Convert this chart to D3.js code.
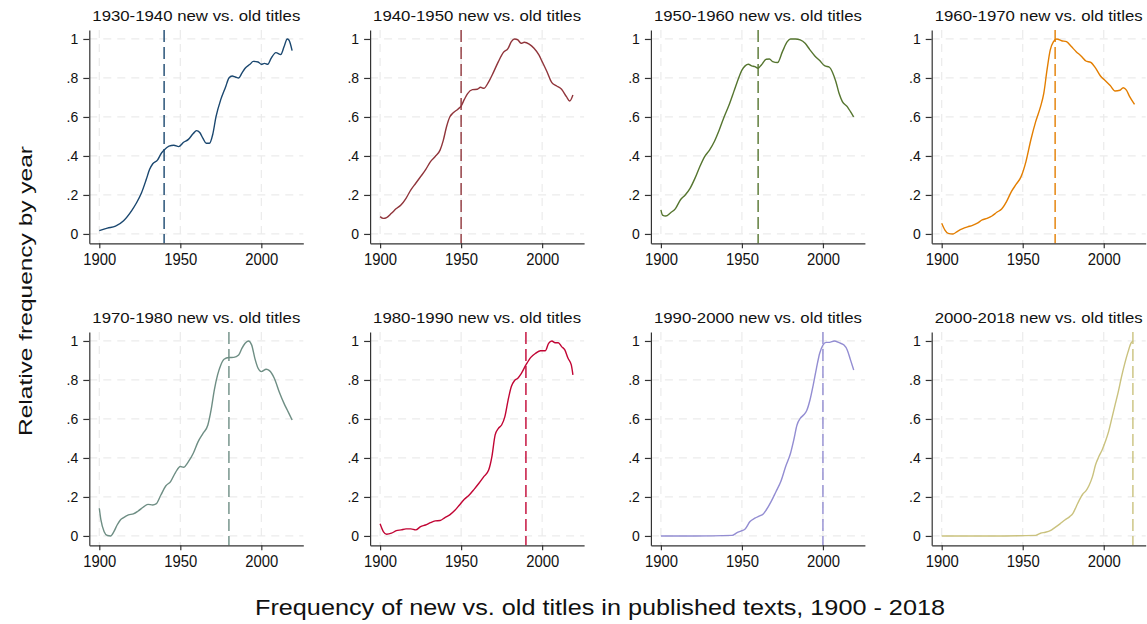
<!DOCTYPE html>
<html>
<head>
<meta charset="utf-8">
<script src="https://cdn.jsdelivr.net/npm/d3@7"></script>
<style>
  body { margin: 0; background: #fff; }
  svg { display: block; font-family: "Liberation Sans", Arial, sans-serif; }
</style>
</head>
<body>
<svg id="chart" width="1147" height="624"></svg>
<script>
const W = 1147, H = 624;

// one entry per small panel, left to right, top row first
const panelTitles = [
    "1930-1940 new vs. old titles", "1940-1950 new vs. old titles",
    "1950-1960 new vs. old titles", "1960-1970 new vs. old titles",
    "1970-1980 new vs. old titles", "1980-1990 new vs. old titles",
    "1990-2000 new vs. old titles", "2000-2018 new vs. old titles"
];
const refYears = [1940, 1950, 1960, 1970, 1980, 1990, 2000, 2018];
const lineColors = ["#1a476f", "#90353b", "#55752f", "#e37e00",
                    "#6e8e84", "#c10534", "#938dd2", "#cac27e"];

const xTicks = [1900, 1950, 2000];
const yTicks = [0, 0.2, 0.4, 0.6, 0.8, 1];
const yTickLabels = ["0", ".2", ".4", ".6", ".8", "1"];
const xTitle = "Frequency of new vs. old titles in published texts, 1900 - 2018";
const yTitle = "Relative frequency by year";

// [year, relative frequency]
const s1930 = [[1900,.017],[1905,.03],[1910,.04],[1915,.068],[1920,.12],[1923,.16],[1926,.21],
    [1929,.28],[1931,.33],[1933,.36],[1936,.38],[1938,.41],[1940,.43],[1943,.45],[1946,.455],
    [1949,.448],[1952,.47],[1955,.485],[1958,.515],[1960,.53],[1962,.52],[1964,.49],[1966,.465],
    [1968,.465],[1970,.51],[1972,.6],[1975,.69],[1978,.755],[1980,.8],[1982,.81],[1984,.805],
    [1986,.8],[1988,.825],[1990,.85],[1993,.87],[1995,.885],[1998,.882],[2000,.87],[2002,.875],
    [2004,.87],[2006,.9],[2009,.93],[2012,.92],[2014,.96],[2016,1],[2017,.995],[2019,.94]];
const s1940 = [[1900,.089],[1902,.08],[1904,.084],[1907,.106],[1910,.13],[1913,.15],[1916,.183],
    [1919,.226],[1922,.26],[1925,.294],[1928,.328],[1931,.37],[1934,.397],[1937,.43],[1939,.48],
    [1941,.55],[1943,.6],[1945,.62],[1948,.64],[1950,.656],[1952,.69],[1954,.72],[1957,.74],
    [1960,.742],[1962,.752],[1964,.747],[1967,.78],[1970,.83],[1973,.884],[1976,.93],[1979,.952],
    [1981,.986],[1983,1],[1985,.995],[1987,.978],[1989,.983],[1992,.974],[1995,.952],[1998,.918],
    [2000,.884],[2003,.832],[2006,.776],[2009,.759],[2012,.742],[2015,.704],[2017,.682],[2019,.713]];
const s1950 = [[1900,.123],[1901,.097],[1903,.092],[1906,.109],[1909,.13],[1912,.174],[1915,.2],
    [1918,.234],[1921,.285],[1924,.345],[1927,.397],[1930,.43],[1933,.474],[1936,.533],[1939,.6],
    [1942,.66],[1945,.73],[1948,.8],[1950,.84],[1952,.862],[1954,.87],[1956,.862],[1958,.858],
    [1960,.85],[1962,.867],[1965,.896],[1967,.897],[1969,.884],[1972,.879],[1975,.935],[1978,.986],
    [1980,1],[1983,1],[1986,.995],[1989,.978],[1992,.944],[1995,.913],[1998,.889],[2001,.863],
    [2004,.855],[2006,.827],[2008,.781],[2010,.72],[2012,.679],[2015,.653],[2017,.627],[2019,.6]];
const s1960 = [[1900,.055],[1902,.02],[1904,.003],[1907,0],[1910,.015],[1913,.027],[1916,.036],
    [1919,.044],[1922,.055],[1925,.072],[1928,.08],[1931,.092],[1934,.111],[1937,.128],[1940,.166],
    [1943,.217],[1946,.255],[1949,.294],[1952,.371],[1955,.482],[1958,.576],[1961,.653],[1963,.721],
    [1965,.841],[1967,.944],[1969,.986],[1971,1],[1974,.991],[1977,.986],[1980,.961],[1983,.935],
    [1986,.913],[1989,.887],[1992,.88],[1995,.85],[1998,.81],[2001,.786],[2004,.761],[2007,.733],
    [2010,.737],[2012,.75],[2014,.738],[2016,.704],[2019,.665]];
const s1970 = [[1900,.142],[1901,.082],[1903,.022],[1905,.002],[1907,0],[1909,.022],[1911,.056],
    [1913,.082],[1915,.094],[1918,.108],[1921,.113],[1924,.128],[1927,.147],[1930,.162],[1933,.159],
    [1935,.164],[1938,.21],[1941,.256],[1944,.279],[1947,.325],[1950,.356],[1952,.352],[1955,.381],
    [1958,.424],[1961,.484],[1964,.526],[1967,.569],[1969,.646],[1971,.749],[1973,.826],[1975,.877],
    [1977,.906],[1980,.915],[1983,.916],[1986,.928],[1988,.962],[1990,.988],[1992,1],[1994,.98],
    [1996,.911],[1998,.86],[2000,.843],[2003,.855],[2005,.848],[2008,.809],[2011,.74],[2014,.68],
    [2016,.646],[2019,.595]];
const s1980 = [[1900,.062],[1902,.022],[1904,.009],[1907,.014],[1910,.027],[1913,.031],[1916,.036],
    [1919,.036],[1922,.031],[1925,.048],[1928,.056],[1931,.068],[1934,.077],[1937,.079],[1940,.094],
    [1943,.108],[1946,.13],[1949,.159],[1952,.188],[1955,.21],[1958,.239],[1961,.27],[1964,.304],
    [1967,.338],[1969,.407],[1971,.518],[1973,.552],[1975,.569],[1977,.612],[1979,.697],[1981,.766],
    [1983,.797],[1985,.809],[1987,.831],[1990,.877],[1993,.916],[1996,.937],[1999,.95],[2002,.95],
    [2004,.988],[2006,1],[2008,.991],[2010,.991],[2012,.971],[2014,.954],[2016,.911],[2018,.877],
    [2019,.826]];
const s1990 = [[1900,0],[1920,0],[1944,.003],[1947,.017],[1950,.027],[1952,.036],[1955,.074],
    [1958,.091],[1961,.103],[1963,.111],[1965,.133],[1968,.176],[1971,.227],[1974,.279],[1977,.356],
    [1980,.424],[1982,.492],[1984,.569],[1986,.603],[1988,.62],[1990,.643],[1992,.697],[1994,.774],
    [1996,.86],[1998,.937],[2000,.979],[2002,.993],[2004,.993],[2007,1],[2010,.991],[2013,.979],
    [2015,.954],[2017,.903],[2019,.851]];
const s2000 = [[1900,0],[1930,0],[1958,.003],[1961,.014],[1964,.019],[1967,.027],[1970,.044],
    [1973,.062],[1976,.082],[1979,.099],[1981,.116],[1983,.15],[1985,.185],[1987,.214],[1989,.231],
    [1991,.26],[1993,.303],[1995,.366],[1997,.407],[1999,.441],[2001,.484],[2003,.535],[2005,.603],
    [2007,.672],[2009,.74],[2011,.817],[2013,.885],[2015,.944],[2017,.991],[2018,1]];
const seriesList = [s1930, s1940, s1950, s1960, s1970, s1980, s1990, s2000];

// panel geometry
const col0 = 89.3, colStep = 280.8, plotW = 214;
const row0 = 30, rowStep = 302, plotH = 213.3;
const xDom = [1893.83, 2025.9];
const yDom = [-0.048, 1.046];

const svg = d3.select("#chart");
svg.append("rect").attr("width", W).attr("height", H).attr("fill", "#fff");

function drawPanel(i) {
    var c = i % 4, r = Math.floor(i / 4);
    var left = col0 + c * colStep, top = row0 + r * rowStep;
    var x = d3.scaleLinear().domain(xDom).range([left, left + plotW]);
    var y = d3.scaleLinear().domain(yDom).range([top + plotH, top]);
    var g = svg.append("g");

    // dashed grid
    g.selectAll("line.hgrid").data(yTicks).enter().append("line")
        .attr("x1", left).attr("x2", left + plotW)
        .attr("y1", d => y(d)).attr("y2", d => y(d))
        .attr("stroke", "#ebebeb").attr("stroke-width", 1.2)
        .attr("stroke-dasharray", "8,6");
    g.selectAll("line.vgrid").data(xTicks).enter().append("line")
        .attr("x1", d => x(d)).attr("x2", d => x(d))
        .attr("y1", top).attr("y2", top + plotH)
        .attr("stroke", "#ebebeb").attr("stroke-width", 1.2)
        .attr("stroke-dasharray", "8,6");

    // reference year
    g.append("line")
        .attr("x1", x(refYears[i])).attr("x2", x(refYears[i]))
        .attr("y1", top).attr("y2", top + plotH)
        .attr("stroke", lineColors[i]).attr("stroke-width", 1.4)
        .attr("stroke-dasharray", "12,5");

    var line = d3.line()
        .x(d => x(d[0])).y(d => y(d[1]))
        .curve(d3.curveMonotoneX);
    g.append("path").datum(seriesList[i])
        .attr("d", line)
        .attr("fill", "none")
        .attr("stroke", lineColors[i]).attr("stroke-width", 1.4);

    var xAxis = g.append("g")
        .attr("transform", "translate(0," + (top + plotH) + ")")
        .call(d3.axisBottom(x).tickValues(xTicks).tickFormat(d3.format("d"))
            .tickSize(5).tickSizeOuter(0).tickPadding(5.5));
    xAxis.selectAll("text").attr("font-size", 16).attr("fill", "#111")
        .attr("font-family", "Liberation Sans, Arial, sans-serif")
        .attr("textLength", 33).attr("lengthAdjust", "spacingAndGlyphs");

    var yAxis = g.append("g")
        .attr("transform", "translate(" + left + ",0)")
        .call(d3.axisLeft(y).tickValues(yTicks)
            .tickFormat((d, k) => yTickLabels[k])
            .tickSize(6).tickSizeOuter(0).tickPadding(5));
    yAxis.selectAll("text").attr("font-size", 14).attr("fill", "#111")
        .attr("font-family", "Liberation Sans, Arial, sans-serif");

    [xAxis, yAxis].forEach(a => {
        a.select(".domain").attr("stroke", "#333").attr("stroke-width", 1.2);
        a.selectAll(".tick line").attr("stroke", "#333").attr("stroke-width", 1.2);
    });

    svg.append("text")
        .attr("x", left + plotW / 2).attr("y", top - 9.5)
        .attr("text-anchor", "middle")
        .attr("font-size", 15.5).attr("fill", "#111")
        .attr("textLength", 208).attr("lengthAdjust", "spacingAndGlyphs")
        .text(panelTitles[i]);
}

for (var i = 0; i < panelTitles.length; i++) {
    drawPanel(i);
}

svg.append("text")
    .attr("x", 600).attr("y", 615)
    .attr("text-anchor", "middle")
    .attr("font-size", 22).attr("fill", "#111")
    .attr("textLength", 690).attr("lengthAdjust", "spacingAndGlyphs")
    .text(xTitle);

svg.append("text")
    .attr("transform", "translate(32,291) rotate(-90)")
    .attr("text-anchor", "middle")
    .attr("font-size", 19).attr("fill", "#111")
    .attr("textLength", 290).attr("lengthAdjust", "spacingAndGlyphs")
    .text(yTitle);
</script>
</body>
</html>
